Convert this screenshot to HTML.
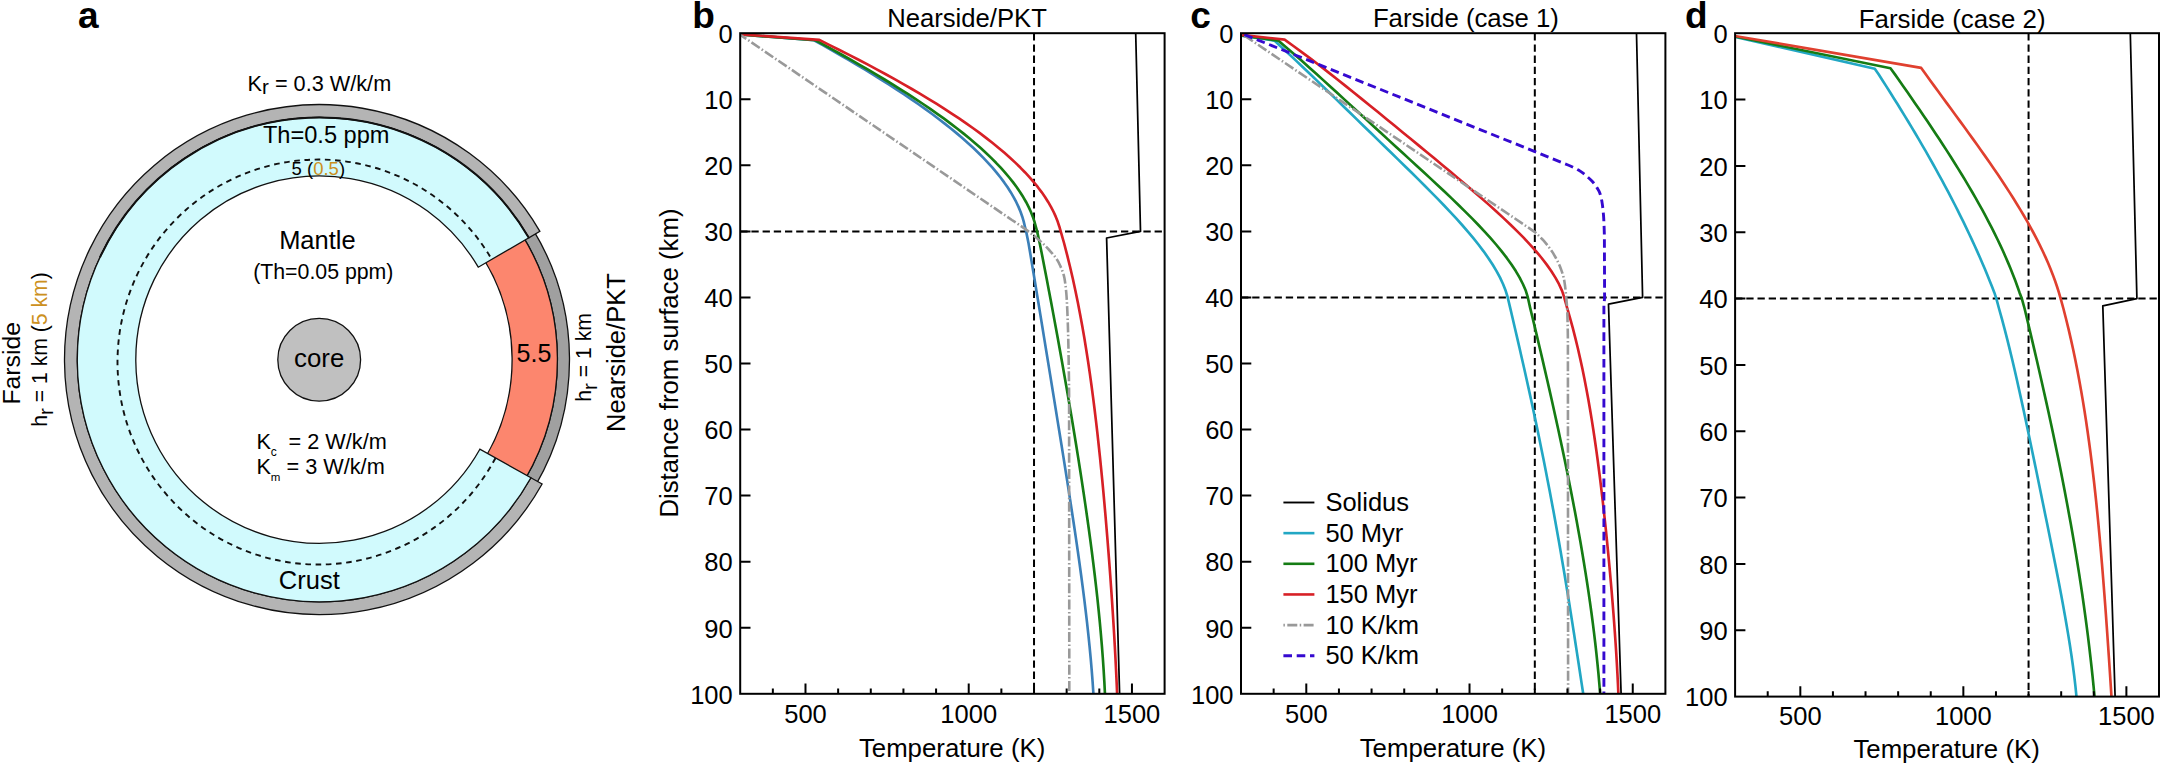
<!DOCTYPE html>
<html lang="en"><head><meta charset="utf-8"><title>Lunar crust thermal model</title>
<style>html,body{margin:0;padding:0;background:#fff;}body{width:2160px;height:763px;overflow:hidden;}svg{display:block;}text{font-family:'Liberation Sans', sans-serif;fill:#000;}.gold{fill:#cc9020;}</style>
</head><body>
<svg width="2160" height="763" viewBox="0 0 2160 763">
<rect width="2160" height="763" fill="#fff"/>
<g id="panel-a">
<path d="M533.34,230.09 A250,250 0 0 1 535.57,485.35 L525.11,479.27 A237.9,237.9 0 0 0 522.99,236.36 Z" fill="#a0a0a0" stroke="#111" stroke-width="1.3" stroke-linejoin="miter"/>
<path d="M522.99,236.36 A237.9,237.9 0 0 1 525.11,479.27 L485.96,456.48 A192.6,192.6 0 0 0 484.24,259.83 Z" fill="#fc866e" stroke="#111" stroke-width="1.3" stroke-linejoin="miter"/>
<path d="M542.1,484 A255,255 0 1 1 539.89,231.33 L528.83,237.77 A242.2,242.2 0 1 0 530.92,477.76 Z" fill="#b4b4b4" stroke="#111" stroke-width="1.3" stroke-linejoin="miter"/>
<path d="M530.92,477.76 A242.2,242.2 0 1 1 528.83,237.77 L478.27,267.2 A183.7,183.7 0 1 0 479.86,449.22 Z" fill="#d1fafd" stroke="#111" stroke-width="1.3" stroke-linejoin="miter"/>
<path d="M99.99,257.24 A242.2,242.2 0 0 1 528.83,237.77" fill="none" stroke="#111" stroke-width="2.0"/>
<path d="M495.52,457.97 A201,202.5 0 1 1 491.74,259.36" fill="none" stroke="#111" stroke-width="1.9" stroke-dasharray="5.6 4.6"/>
<circle cx="319.2" cy="359.8" r="41.4" fill="#c0c0c0" stroke="#111" stroke-width="1.3"/>
<text x="78" y="27.6" font-size="37" font-weight="bold">a</text>
<text x="247.6" y="90.6" font-size="21.7">K<tspan dy="2.9" font-size="20.5">r</tspan><tspan dy="-2.9"> = 0.3 W/k/m</tspan></text>
<text x="262.9" y="143.4" font-size="23.6">Th=0.5 ppm</text>
<text x="291.6" y="175" font-size="18.5" fill="#222">5 (<tspan class="gold">0.5</tspan>)</text>
<text x="317.4" y="249.4" font-size="25.5" text-anchor="middle">Mantle</text>
<text x="323.3" y="279" font-size="21.3" text-anchor="middle">(Th=0.05 ppm)</text>
<text x="319.2" y="367" font-size="25.8" text-anchor="middle">core</text>
<text x="256.4" y="448.5" font-size="21.7">K<tspan dy="7" font-size="12">c</tspan></text>
<text x="288.6" y="448.5" font-size="21.7">= 2 W/k/m</text>
<text x="256.4" y="473.7" font-size="21.7">K<tspan dy="7" font-size="11.5">m</tspan></text>
<text x="286.5" y="473.7" font-size="21.7">= 3 W/k/m</text>
<text x="278.8" y="588.8" font-size="25.5">Crust</text>
<text x="516.6" y="361.7" font-size="25">5.5</text>
<text transform="translate(19.5,404.6) rotate(-90)" font-size="24.8">Farside</text>
<text transform="translate(47,426.8) rotate(-90)" font-size="21.2">h<tspan dy="5.9" font-size="20.5">r</tspan><tspan dy="-5.9"> = 1 km (<tspan class="gold">5 km</tspan>)</tspan></text>
<text transform="translate(590.9,401.8) rotate(-90)" font-size="21.2">h<tspan dy="5.9" font-size="20.5">r</tspan><tspan dy="-5.9"> = 1 km</tspan></text>
<text transform="translate(624.7,432) rotate(-90)" font-size="25.5">Nearside/PKT</text>
</g>
<g id="panel-b">
<clipPath id="clipb"><rect x="740.2" y="33.2" width="424.4" height="660.6"/></clipPath>
<path d="M1034.02,33.2 L1034.02,693.8" fill="none" stroke="#000" stroke-width="2.0" stroke-linejoin="round" stroke-linecap="butt" stroke-dasharray="7.3 3.9"/>
<path d="M740.2,231.38 L1164.6,231.38" fill="none" stroke="#000" stroke-width="2.0" stroke-linejoin="round" stroke-linecap="butt" stroke-dasharray="7.3 3.9"/>
<path d="M1135.7,33.2 L1140.5,231.38 L1106.6,238 L1119.6,693.8" fill="none" stroke="#000" stroke-width="1.75" stroke-linejoin="round" stroke-linecap="butt" clip-path="url(#clipb)"/>
<path d="M723.88,33.2 L814.05,40.3 L822.81,45.2 L831.51,50.1 L840.1,55 L848.55,59.9 L856.88,64.8 L865.07,69.7 L873.12,74.6 L881.02,79.5 L888.77,84.4 L896.36,89.29 L903.8,94.19 L911.06,99.09 L918.16,103.99 L925.07,108.89 L931.81,113.79 L938.36,118.69 L944.71,123.59 L950.87,128.49 L956.83,133.39 L962.58,138.29 L968.12,143.19 L973.44,148.09 L978.54,152.99 L983.41,157.89 L988.05,162.79 L992.45,167.69 L996.61,172.59 L1000.52,177.49 L1004.18,182.39 L1007.58,187.28 L1010.71,192.18 L1013.58,197.08 L1016.18,201.98 L1018.5,206.88 L1020.53,211.78 L1022.28,216.68 L1023.73,221.58 L1024.89,226.48 L1026.13,231.38 L1028.52,243.24 L1030.52,255.09 L1032.49,266.95 L1034.46,278.81 L1036.41,290.66 L1038.36,302.52 L1040.3,314.38 L1042.24,326.24 L1044.17,338.09 L1046.1,349.95 L1048.03,361.81 L1049.96,373.66 L1051.88,385.52 L1053.81,397.38 L1055.73,409.23 L1057.64,421.09 L1059.56,432.95 L1061.46,444.8 L1063.36,456.66 L1065.24,468.52 L1067.11,480.38 L1068.96,492.23 L1070.8,504.09 L1072.6,515.95 L1074.38,527.8 L1076.13,539.66 L1077.85,551.52 L1079.52,563.37 L1081.14,575.23 L1082.71,587.09 L1084.22,598.94 L1085.67,610.8 L1087.05,622.66 L1088.35,634.52 L1089.56,646.37 L1090.68,658.23 L1091.7,670.09 L1092.61,681.94 L1093.41,693.8" fill="none" stroke="#3b7fb8" stroke-width="2.65" stroke-linejoin="round" stroke-linecap="butt" clip-path="url(#clipb)"/>
<path d="M723.88,33.2 L815.58,40.3 L824.53,45.2 L833.5,50.1 L842.34,55 L851.06,59.9 L859.66,64.8 L868.11,69.7 L876.43,74.6 L884.59,79.5 L892.61,84.4 L900.47,89.29 L908.17,94.19 L915.7,99.09 L923.06,103.99 L930.25,108.89 L937.25,113.79 L944.06,118.69 L950.68,123.59 L957.1,128.49 L963.32,133.39 L969.32,138.29 L975.12,143.19 L980.69,148.09 L986.04,152.99 L991.16,157.89 L996.05,162.79 L1000.7,167.69 L1005.1,172.59 L1009.24,177.49 L1013.14,182.39 L1016.77,187.28 L1020.14,192.18 L1023.23,197.08 L1026.05,201.98 L1028.58,206.88 L1030.83,211.78 L1032.78,216.68 L1034.44,221.58 L1035.79,226.48 L1037.1,231.38 L1039.72,243.24 L1042.07,255.09 L1044.38,266.95 L1046.67,278.81 L1048.93,290.66 L1051.17,302.52 L1053.38,314.38 L1055.57,326.24 L1057.74,338.09 L1059.88,349.95 L1062,361.81 L1064.1,373.66 L1066.17,385.52 L1068.21,397.38 L1070.23,409.23 L1072.22,421.09 L1074.19,432.95 L1076.12,444.8 L1078.02,456.66 L1079.89,468.52 L1081.72,480.38 L1083.51,492.23 L1085.26,504.09 L1086.97,515.95 L1088.63,527.8 L1090.25,539.66 L1091.81,551.52 L1093.31,563.37 L1094.76,575.23 L1096.14,587.09 L1097.45,598.94 L1098.69,610.8 L1099.85,622.66 L1100.93,634.52 L1101.93,646.37 L1102.84,658.23 L1103.64,670.09 L1104.35,681.94 L1104.95,693.8" fill="none" stroke="#157c14" stroke-width="2.65" stroke-linejoin="round" stroke-linecap="butt" clip-path="url(#clipb)"/>
<path d="M723.88,33.2 L819.39,39.9 L829.14,44.81 L838.95,49.72 L848.61,54.63 L858.13,59.54 L867.5,64.45 L876.71,69.36 L885.75,74.27 L894.63,79.18 L903.34,84.09 L911.87,89 L920.22,93.91 L928.38,98.82 L936.35,103.73 L944.12,108.64 L951.69,113.55 L959.06,118.46 L966.22,123.37 L973.16,128.28 L979.88,133.19 L986.37,138.09 L992.64,143 L998.67,147.91 L1004.46,152.82 L1010.01,157.73 L1015.3,162.64 L1020.35,167.55 L1025.13,172.46 L1029.65,177.37 L1033.91,182.28 L1037.88,187.19 L1041.59,192.1 L1045,197.01 L1048.13,201.92 L1050.97,206.83 L1053.51,211.74 L1055.75,216.65 L1057.68,221.56 L1059.3,226.47 L1060.71,231.38 L1064.1,243.24 L1067.18,255.09 L1070.09,266.95 L1072.83,278.81 L1075.41,290.66 L1077.84,302.52 L1080.13,314.38 L1082.3,326.24 L1084.35,338.09 L1086.28,349.95 L1088.12,361.81 L1089.85,373.66 L1091.5,385.52 L1093.07,397.38 L1094.57,409.23 L1096,421.09 L1097.36,432.95 L1098.66,444.8 L1099.92,456.66 L1101.12,468.52 L1102.28,480.38 L1103.39,492.23 L1104.47,504.09 L1105.51,515.95 L1106.51,527.8 L1107.48,539.66 L1108.43,551.52 L1109.34,563.37 L1110.22,575.23 L1111.06,587.09 L1111.88,598.94 L1112.67,610.8 L1113.42,622.66 L1114.14,634.52 L1114.82,646.37 L1115.46,658.23 L1116.06,670.09 L1116.61,681.94 L1117.11,693.8" fill="none" stroke="#d72026" stroke-width="2.65" stroke-linejoin="round" stroke-linecap="butt" clip-path="url(#clipb)"/>
<path d="M738,33.2 L1011.9,220 L1016.6,223.05 L1021.1,226.1 L1025.38,229.15 L1029.41,232.2 L1033.29,235.25 L1037.03,238.31 L1040.57,241.36 L1043.83,244.41 L1046.79,247.46 L1049.65,250.51 L1052.37,253.56 L1054.86,256.61 L1057.02,259.66 L1058.76,262.71 L1060.22,265.76 L1061.55,268.81 L1062.72,271.86 L1063.69,274.92 L1064.42,277.97 L1064.91,281.02 L1065.34,284.07 L1065.71,287.12 L1066.03,290.17 L1066.31,293.22 L1066.55,296.27 L1066.75,299.32 L1066.92,302.37 L1067.07,305.42 L1067.22,308.47 L1067.36,311.53 L1067.48,314.58 L1067.6,317.63 L1067.72,320.68 L1067.82,323.73 L1067.92,326.78 L1068.01,329.83 L1068.1,332.88 L1068.18,335.93 L1068.25,338.98 L1068.32,342.03 L1068.39,345.08 L1068.45,348.14 L1068.5,351.19 L1068.56,354.24 L1068.61,357.29 L1068.66,360.34 L1068.71,363.39 L1068.76,366.44 L1068.81,369.49 L1068.86,372.54 L1068.9,375.59 L1068.94,378.64 L1068.97,381.69 L1069.01,384.75 L1069.03,387.8 L1069.06,390.85 L1069.08,393.9 L1069.09,396.95 L1069.1,400 L1069.3,693.8" fill="none" stroke="#999999" stroke-width="2.6" stroke-linejoin="round" stroke-linecap="butt" stroke-dasharray="10 2.4 1.5 2.4" clip-path="url(#clipb)"/>
<rect x="740.2" y="33.2" width="424.4" height="660.6" fill="none" stroke="#000" stroke-width="2.0"/>
<path d="M740.2,99.26 h10.3 M740.2,165.32 h10.3 M740.2,231.38 h10.3 M740.2,297.44 h10.3 M740.2,363.5 h10.3 M740.2,429.56 h10.3 M740.2,495.62 h10.3 M740.2,561.68 h10.3 M740.2,627.74 h10.3 M772.85,693.8 v-5.3 M805.49,693.8 v-10.3 M838.14,693.8 v-5.3 M870.78,693.8 v-5.3 M903.43,693.8 v-5.3 M936.08,693.8 v-5.3 M968.72,693.8 v-10.3 M1001.37,693.8 v-5.3 M1034.02,693.8 v-5.3 M1066.66,693.8 v-5.3 M1099.31,693.8 v-5.3 M1131.95,693.8 v-10.3" stroke="#000" stroke-width="2.0" fill="none"/>
<text x="732.7" y="43" font-size="25.5" text-anchor="end">0</text>
<text x="732.7" y="109.06" font-size="25.5" text-anchor="end">10</text>
<text x="732.7" y="175.12" font-size="25.5" text-anchor="end">20</text>
<text x="732.7" y="241.18" font-size="25.5" text-anchor="end">30</text>
<text x="732.7" y="307.24" font-size="25.5" text-anchor="end">40</text>
<text x="732.7" y="373.3" font-size="25.5" text-anchor="end">50</text>
<text x="732.7" y="439.36" font-size="25.5" text-anchor="end">60</text>
<text x="732.7" y="505.42" font-size="25.5" text-anchor="end">70</text>
<text x="732.7" y="571.48" font-size="25.5" text-anchor="end">80</text>
<text x="732.7" y="637.54" font-size="25.5" text-anchor="end">90</text>
<text x="732.7" y="703.6" font-size="25.5" text-anchor="end">100</text>
<text x="805.49" y="722.8" font-size="25.5" text-anchor="middle">500</text>
<text x="968.72" y="722.8" font-size="25.5" text-anchor="middle">1000</text>
<text x="1131.95" y="722.8" font-size="25.5" text-anchor="middle">1500</text>
<text x="858.9" y="756.9" font-size="25.8">Temperature (K)</text>
<text x="692.3" y="28" font-size="37" font-weight="bold">b</text>
<text x="887.2" y="26.9" font-size="25.65">Nearside/PKT</text>
<text transform="translate(677.8,517.6) rotate(-90)" font-size="25.75">Distance from surface (km)</text>
</g>
<g id="panel-c">
<clipPath id="clipc"><rect x="1241" y="33.2" width="424.4" height="660.6"/></clipPath>
<path d="M1534.82,33.2 L1534.82,693.8" fill="none" stroke="#000" stroke-width="2.0" stroke-linejoin="round" stroke-linecap="butt" stroke-dasharray="7.3 3.9"/>
<path d="M1241,297.44 L1665.4,297.44" fill="none" stroke="#000" stroke-width="2.0" stroke-linejoin="round" stroke-linecap="butt" stroke-dasharray="7.3 3.9"/>
<path d="M1636.5,33.2 L1642.6,297.44 L1608.5,304.2 L1621.1,693.8" fill="none" stroke="#000" stroke-width="1.75" stroke-linejoin="round" stroke-linecap="butt" clip-path="url(#clipc)"/>
<path d="M1224.68,33.2 L1274.39,40.6 L1281.61,47.19 L1288.72,53.77 L1295.74,60.36 L1302.69,66.94 L1309.58,73.53 L1316.42,80.11 L1323.23,86.7 L1330.02,93.29 L1336.79,99.87 L1343.56,106.46 L1350.32,113.04 L1357.09,119.63 L1363.86,126.21 L1370.64,132.8 L1377.42,139.38 L1384.2,145.97 L1390.97,152.56 L1397.74,159.14 L1404.48,165.73 L1411.2,172.31 L1417.87,178.9 L1424.49,185.48 L1431.04,192.07 L1437.51,198.66 L1443.87,205.24 L1450.11,211.83 L1456.2,218.41 L1462.12,225 L1467.85,231.58 L1473.36,238.17 L1478.62,244.75 L1483.6,251.34 L1488.27,257.93 L1492.59,264.51 L1496.53,271.1 L1500.06,277.68 L1503.12,284.27 L1505.7,290.85 L1507.73,297.44 L1510.13,307.6 L1512.51,317.77 L1514.88,327.93 L1517.24,338.09 L1519.58,348.26 L1521.89,358.42 L1524.19,368.58 L1526.46,378.74 L1528.71,388.91 L1530.93,399.07 L1533.12,409.23 L1535.29,419.4 L1537.42,429.56 L1539.53,439.72 L1541.6,449.89 L1543.65,460.05 L1545.66,470.21 L1547.64,480.38 L1549.59,490.54 L1551.5,500.7 L1553.39,510.86 L1555.24,521.03 L1557.07,531.19 L1558.86,541.35 L1560.63,551.52 L1562.36,561.68 L1564.08,571.84 L1565.76,582.01 L1567.43,592.17 L1569.07,602.33 L1570.69,612.5 L1572.29,622.66 L1573.88,632.82 L1575.45,642.98 L1577.01,653.15 L1578.57,663.31 L1580.12,673.47 L1581.66,683.64 L1583.21,693.8" fill="none" stroke="#22a7c4" stroke-width="2.65" stroke-linejoin="round" stroke-linecap="butt" clip-path="url(#clipc)"/>
<path d="M1224.68,33.2 L1278.25,40.6 L1286.01,47.19 L1293.66,53.77 L1301.19,60.36 L1308.62,66.94 L1315.96,73.53 L1323.25,80.11 L1330.48,86.7 L1337.68,93.29 L1344.86,99.87 L1352.02,106.46 L1359.18,113.04 L1366.34,119.63 L1373.51,126.21 L1380.69,132.8 L1387.87,139.38 L1395.06,145.97 L1402.26,152.56 L1409.44,159.14 L1416.62,165.73 L1423.78,172.31 L1430.9,178.9 L1437.98,185.48 L1444.99,192.07 L1451.92,198.66 L1458.75,205.24 L1465.46,211.83 L1472.03,218.41 L1478.42,225 L1484.61,231.58 L1490.58,238.17 L1496.28,244.75 L1501.69,251.34 L1506.77,257.93 L1511.48,264.51 L1515.79,271.1 L1519.64,277.68 L1523.01,284.27 L1525.83,290.85 L1527.85,297.44 L1530.1,307.6 L1532.56,317.77 L1535,327.93 L1537.42,338.09 L1539.82,348.26 L1542.2,358.42 L1544.57,368.58 L1546.91,378.74 L1549.23,388.91 L1551.52,399.07 L1553.79,409.23 L1556.03,419.4 L1558.25,429.56 L1560.43,439.72 L1562.59,449.89 L1564.71,460.05 L1566.8,470.21 L1568.85,480.38 L1570.86,490.54 L1572.84,500.7 L1574.77,510.86 L1576.66,521.03 L1578.51,531.19 L1580.31,541.35 L1582.06,551.52 L1583.76,561.68 L1585.4,571.84 L1586.99,582.01 L1588.52,592.17 L1590,602.33 L1591.41,612.5 L1592.75,622.66 L1594.03,632.82 L1595.24,642.98 L1596.37,653.15 L1597.43,663.31 L1598.42,673.47 L1599.32,683.64 L1600.14,693.8" fill="none" stroke="#157c14" stroke-width="2.65" stroke-linejoin="round" stroke-linecap="butt" clip-path="url(#clipc)"/>
<path d="M1224.68,33.2 L1284.59,39.6 L1293.76,46.21 L1302.74,52.82 L1311.54,59.43 L1320.19,66.05 L1328.72,72.66 L1337.14,79.27 L1345.47,85.88 L1353.74,92.49 L1361.95,99.1 L1370.11,105.71 L1378.24,112.32 L1386.35,118.94 L1394.44,125.55 L1402.51,132.16 L1410.56,138.77 L1418.6,145.38 L1426.62,151.99 L1434.62,158.6 L1442.59,165.21 L1450.51,171.83 L1458.38,178.44 L1466.19,185.05 L1473.91,191.66 L1481.53,198.27 L1489.03,204.88 L1496.39,211.49 L1503.57,218.1 L1510.56,224.72 L1517.32,231.33 L1523.82,237.94 L1530.03,244.55 L1535.92,251.16 L1541.44,257.77 L1546.55,264.38 L1551.22,270.99 L1555.4,277.61 L1559.03,284.22 L1562.08,290.83 L1564.21,297.44 L1567.06,307.6 L1569.99,317.77 L1572.76,327.93 L1575.37,338.09 L1577.83,348.26 L1580.15,358.42 L1582.35,368.58 L1584.42,378.74 L1586.38,388.91 L1588.24,399.07 L1590.01,409.23 L1591.69,419.4 L1593.28,429.56 L1594.81,439.72 L1596.26,449.89 L1597.65,460.05 L1598.99,470.21 L1600.27,480.38 L1601.5,490.54 L1602.68,500.7 L1603.83,510.86 L1604.93,521.03 L1606,531.19 L1607.03,541.35 L1608.03,551.52 L1609,561.68 L1609.94,571.84 L1610.84,582.01 L1611.72,592.17 L1612.56,602.33 L1613.37,612.5 L1614.14,622.66 L1614.88,632.82 L1615.58,642.98 L1616.24,653.15 L1616.85,663.31 L1617.41,673.47 L1617.92,683.64 L1618.37,693.8" fill="none" stroke="#d72026" stroke-width="2.65" stroke-linejoin="round" stroke-linecap="butt" clip-path="url(#clipc)"/>
<path d="M1241,33.2 L1534.53,231.8 L1536.66,233.72 L1538.71,235.64 L1540.67,237.56 L1542.54,239.47 L1544.29,241.39 L1545.94,243.31 L1547.5,245.23 L1548.97,247.15 L1550.37,249.07 L1551.69,250.99 L1552.93,252.91 L1554.09,254.82 L1555.19,256.74 L1556.25,258.66 L1557.26,260.58 L1558.21,262.5 L1559.09,264.42 L1559.9,266.34 L1560.64,268.25 L1561.35,270.17 L1562.03,272.09 L1562.67,274.01 L1563.23,275.93 L1563.72,277.85 L1564.11,279.77 L1564.44,281.68 L1564.73,283.6 L1564.99,285.52 L1565.23,287.44 L1565.45,289.36 L1565.66,291.28 L1565.85,293.2 L1566.03,295.12 L1566.2,297.03 L1566.38,298.95 L1566.55,300.87 L1566.72,302.79 L1566.88,304.71 L1567.02,306.63 L1567.14,308.55 L1567.24,310.46 L1567.31,312.38 L1567.37,314.3 L1567.43,316.22 L1567.48,318.14 L1567.53,320.06 L1567.58,321.98 L1567.63,323.89 L1567.67,325.81 L1567.71,327.73 L1567.75,329.65 L1567.78,331.57 L1567.81,333.49 L1567.84,335.41 L1567.86,337.33 L1567.88,339.24 L1567.89,341.16 L1567.9,343.08 L1567.9,345 L1568.1,693.8" fill="none" stroke="#999999" stroke-width="2.6" stroke-linejoin="round" stroke-linecap="butt" stroke-dasharray="10 2.4 1.5 2.4" stroke-dashoffset="12" clip-path="url(#clipc)"/>
<path d="M1241,33.2 L1568,165 L1570.92,166.27 L1573.65,167.54 L1576.17,168.81 L1578.47,170.08 L1580.54,171.36 L1582.39,172.63 L1584.06,173.9 L1585.59,175.17 L1587.04,176.44 L1588.47,177.71 L1589.84,178.98 L1591.15,180.25 L1592.37,181.53 L1593.49,182.8 L1594.48,184.07 L1595.38,185.34 L1596.26,186.61 L1597.09,187.88 L1597.87,189.15 L1598.59,190.42 L1599.23,191.69 L1599.78,192.97 L1600.22,194.24 L1600.58,195.51 L1600.91,196.78 L1601.21,198.05 L1601.48,199.32 L1601.73,200.59 L1601.96,201.86 L1602.16,203.14 L1602.35,204.41 L1602.52,205.68 L1602.68,206.95 L1602.83,208.22 L1602.97,209.49 L1603.1,210.76 L1603.23,212.03 L1603.34,213.31 L1603.45,214.58 L1603.55,215.85 L1603.64,217.12 L1603.72,218.39 L1603.78,219.66 L1603.84,220.93 L1603.9,222.2 L1603.96,223.47 L1604.01,224.75 L1604.07,226.02 L1604.12,227.29 L1604.16,228.56 L1604.21,229.83 L1604.25,231.1 L1604.29,232.37 L1604.32,233.64 L1604.35,234.92 L1604.37,236.19 L1604.39,237.46 L1604.4,238.73 L1604.4,240 L1604.6,297.44 L1603.9,305.44 L1603.9,693.8" fill="none" stroke="#3509d0" stroke-width="2.9" stroke-linejoin="round" stroke-linecap="butt" stroke-dasharray="8.6 4.7" stroke-dashoffset="9.6" clip-path="url(#clipc)"/>
<rect x="1241" y="33.2" width="424.4" height="660.6" fill="none" stroke="#000" stroke-width="2.0"/>
<path d="M1241,99.26 h10.3 M1241,165.32 h10.3 M1241,231.38 h10.3 M1241,297.44 h10.3 M1241,363.5 h10.3 M1241,429.56 h10.3 M1241,495.62 h10.3 M1241,561.68 h10.3 M1241,627.74 h10.3 M1273.65,693.8 v-5.3 M1306.29,693.8 v-10.3 M1338.94,693.8 v-5.3 M1371.58,693.8 v-5.3 M1404.23,693.8 v-5.3 M1436.88,693.8 v-5.3 M1469.52,693.8 v-10.3 M1502.17,693.8 v-5.3 M1534.82,693.8 v-5.3 M1567.46,693.8 v-5.3 M1600.11,693.8 v-5.3 M1632.75,693.8 v-10.3" stroke="#000" stroke-width="2.0" fill="none"/>
<text x="1233.5" y="43" font-size="25.5" text-anchor="end">0</text>
<text x="1233.5" y="109.06" font-size="25.5" text-anchor="end">10</text>
<text x="1233.5" y="175.12" font-size="25.5" text-anchor="end">20</text>
<text x="1233.5" y="241.18" font-size="25.5" text-anchor="end">30</text>
<text x="1233.5" y="307.24" font-size="25.5" text-anchor="end">40</text>
<text x="1233.5" y="373.3" font-size="25.5" text-anchor="end">50</text>
<text x="1233.5" y="439.36" font-size="25.5" text-anchor="end">60</text>
<text x="1233.5" y="505.42" font-size="25.5" text-anchor="end">70</text>
<text x="1233.5" y="571.48" font-size="25.5" text-anchor="end">80</text>
<text x="1233.5" y="637.54" font-size="25.5" text-anchor="end">90</text>
<text x="1233.5" y="703.6" font-size="25.5" text-anchor="end">100</text>
<text x="1306.29" y="722.8" font-size="25.5" text-anchor="middle">500</text>
<text x="1469.52" y="722.8" font-size="25.5" text-anchor="middle">1000</text>
<text x="1632.75" y="722.8" font-size="25.5" text-anchor="middle">1500</text>
<text x="1359.7" y="756.9" font-size="25.8">Temperature (K)</text>
<text x="1190.3" y="28" font-size="37" font-weight="bold">c</text>
<text x="1372.9" y="26.8" font-size="25.75">Farside (case 1)</text>
<path d="M1283.4,502.5 L1314.4,502.5" fill="none" stroke="#000" stroke-width="1.9" stroke-linejoin="round" stroke-linecap="butt"/>
<text x="1325.4" y="510.9" font-size="25.5">Solidus</text>
<path d="M1283.4,533.15 L1314.4,533.15" fill="none" stroke="#22a7c4" stroke-width="2.6" stroke-linejoin="round" stroke-linecap="butt"/>
<text x="1325.4" y="541.55" font-size="25.5">50 Myr</text>
<path d="M1283.4,563.8 L1314.4,563.8" fill="none" stroke="#157c14" stroke-width="2.6" stroke-linejoin="round" stroke-linecap="butt"/>
<text x="1325.4" y="572.2" font-size="25.5">100 Myr</text>
<path d="M1283.4,594.45 L1314.4,594.45" fill="none" stroke="#d72026" stroke-width="2.6" stroke-linejoin="round" stroke-linecap="butt"/>
<text x="1325.4" y="602.85" font-size="25.5">150 Myr</text>
<path d="M1283.4,625.1 L1314.4,625.1" fill="none" stroke="#999999" stroke-width="2.7" stroke-linejoin="round" stroke-linecap="butt" stroke-dasharray="1.5 2.4 10 2.4"/>
<text x="1325.4" y="633.5" font-size="25.5">10 K/km</text>
<path d="M1283.4,655.75 L1314.4,655.75" fill="none" stroke="#3509d0" stroke-width="2.9" stroke-linejoin="round" stroke-linecap="butt" stroke-dasharray="8.6 4.7"/>
<text x="1325.4" y="664.15" font-size="25.5">50 K/km</text>
</g>
<g id="panel-d">
<clipPath id="clipd"><rect x="1735.1" y="33.2" width="423.9" height="663.4"/></clipPath>
<path d="M2028.57,33.2 L2028.57,696.6" fill="none" stroke="#000" stroke-width="2.0" stroke-linejoin="round" stroke-linecap="butt" stroke-dasharray="7.3 3.9"/>
<path d="M1735.1,298.56 L2159,298.56" fill="none" stroke="#000" stroke-width="2.0" stroke-linejoin="round" stroke-linecap="butt" stroke-dasharray="7.3 3.9"/>
<path d="M2130.3,33.2 L2136.9,298.56 L2102.8,305.8 L2115.1,696.6" fill="none" stroke="#000" stroke-width="1.75" stroke-linejoin="round" stroke-linecap="butt" clip-path="url(#clipd)"/>
<path d="M1718.8,33.2 L1874.77,68.7 L1878.77,74.59 L1882.57,80.49 L1886.34,86.38 L1890.07,92.28 L1893.78,98.17 L1897.46,104.06 L1901.11,109.96 L1904.72,115.85 L1908.31,121.74 L1911.86,127.64 L1915.37,133.53 L1918.85,139.43 L1922.29,145.32 L1925.7,151.21 L1929.07,157.11 L1932.4,163 L1935.69,168.9 L1938.94,174.79 L1942.15,180.68 L1945.32,186.58 L1948.44,192.47 L1951.53,198.36 L1954.57,204.26 L1957.56,210.15 L1960.51,216.05 L1963.42,221.94 L1966.27,227.83 L1969.08,233.73 L1971.84,239.62 L1974.55,245.52 L1977.21,251.41 L1979.82,257.3 L1982.38,263.2 L1984.89,269.09 L1987.34,274.98 L1989.74,280.88 L1992.08,286.77 L1994.37,292.67 L1996.34,298.56 L1999.06,308.77 L2001.9,318.97 L2004.63,329.18 L2007.26,339.38 L2009.79,349.59 L2012.25,359.8 L2014.65,370 L2016.98,380.21 L2019.26,390.42 L2021.5,400.62 L2023.71,410.83 L2025.89,421.03 L2028.05,431.24 L2030.18,441.45 L2032.31,451.65 L2034.42,461.86 L2036.53,472.06 L2038.63,482.27 L2040.73,492.48 L2042.82,502.68 L2044.9,512.89 L2046.99,523.1 L2049.06,533.3 L2051.12,543.51 L2053.16,553.71 L2055.19,563.92 L2057.2,574.13 L2059.17,584.33 L2061.11,594.54 L2063,604.74 L2064.84,614.95 L2066.62,625.16 L2068.33,635.36 L2069.96,645.57 L2071.5,655.78 L2072.94,665.98 L2074.25,676.19 L2075.44,686.39 L2076.48,696.6" fill="none" stroke="#22a7c4" stroke-width="2.65" stroke-linejoin="round" stroke-linecap="butt" clip-path="url(#clipd)"/>
<path d="M1718.8,33.2 L1890.46,68.2 L1894.77,74.11 L1898.91,80.01 L1903.05,85.92 L1907.16,91.83 L1911.26,97.73 L1915.34,103.64 L1919.4,109.55 L1923.43,115.45 L1927.43,121.36 L1931.4,127.27 L1935.34,133.17 L1939.24,139.08 L1943.1,144.99 L1946.93,150.89 L1950.7,156.8 L1954.44,162.71 L1958.12,168.61 L1961.75,174.52 L1965.33,180.43 L1968.85,186.33 L1972.31,192.24 L1975.71,198.15 L1979.04,204.05 L1982.31,209.96 L1985.51,215.87 L1988.63,221.77 L1991.68,227.68 L1994.66,233.59 L1997.55,239.49 L2000.36,245.4 L2003.09,251.31 L2005.72,257.21 L2008.27,263.12 L2010.72,269.03 L2013.08,274.93 L2015.34,280.84 L2017.5,286.75 L2019.56,292.65 L2021.83,298.56 L2024.63,308.77 L2027.07,318.97 L2029.51,329.18 L2031.92,339.38 L2034.32,349.59 L2036.69,359.8 L2039.04,370 L2041.37,380.21 L2043.67,390.42 L2045.95,400.62 L2048.2,410.83 L2050.41,421.03 L2052.6,431.24 L2054.75,441.45 L2056.87,451.65 L2058.95,461.86 L2061,472.06 L2063.01,482.27 L2064.98,492.48 L2066.91,502.68 L2068.79,512.89 L2070.64,523.1 L2072.44,533.3 L2074.2,543.51 L2075.91,553.71 L2077.57,563.92 L2079.19,574.13 L2080.76,584.33 L2082.28,594.54 L2083.74,604.74 L2085.16,614.95 L2086.52,625.16 L2087.84,635.36 L2089.09,645.57 L2090.29,655.78 L2091.44,665.98 L2092.53,676.19 L2093.57,686.39 L2094.54,696.6" fill="none" stroke="#157c14" stroke-width="2.65" stroke-linejoin="round" stroke-linecap="butt" clip-path="url(#clipd)"/>
<path d="M1718.8,33.2 L1921.22,67.9 L1925.4,73.81 L1929.68,79.73 L1933.98,85.64 L1938.3,91.56 L1942.63,97.47 L1946.97,103.39 L1951.31,109.3 L1955.64,115.21 L1959.97,121.13 L1964.29,127.04 L1968.58,132.96 L1972.85,138.87 L1977.1,144.79 L1981.31,150.7 L1985.48,156.62 L1989.61,162.53 L1993.69,168.44 L1997.71,174.36 L2001.67,180.27 L2005.58,186.19 L2009.41,192.1 L2013.16,198.02 L2016.84,203.93 L2020.43,209.84 L2023.93,215.76 L2027.34,221.67 L2030.64,227.59 L2033.84,233.5 L2036.93,239.42 L2039.91,245.33 L2042.76,251.25 L2045.49,257.16 L2048.09,263.07 L2050.55,268.99 L2052.87,274.9 L2055.04,280.82 L2057.07,286.73 L2058.93,292.65 L2060.67,298.56 L2063.45,308.77 L2066.07,318.97 L2068.55,329.18 L2070.92,339.38 L2073.16,349.59 L2075.3,359.8 L2077.33,370 L2079.25,380.21 L2081.09,390.42 L2082.83,400.62 L2084.48,410.83 L2086.06,421.03 L2087.56,431.24 L2088.99,441.45 L2090.35,451.65 L2091.65,461.86 L2092.88,472.06 L2094.07,482.27 L2095.2,492.48 L2096.28,502.68 L2097.32,512.89 L2098.32,523.1 L2099.28,533.3 L2100.21,543.51 L2101.1,553.71 L2101.97,563.92 L2102.8,574.13 L2103.62,584.33 L2104.41,594.54 L2105.18,604.74 L2105.93,614.95 L2106.66,625.16 L2107.38,635.36 L2108.09,645.57 L2108.78,655.78 L2109.47,665.98 L2110.14,676.19 L2110.8,686.39 L2111.46,696.6" fill="none" stroke="#e0402f" stroke-width="2.65" stroke-linejoin="round" stroke-linecap="butt" clip-path="url(#clipd)"/>
<rect x="1735.1" y="33.2" width="423.9" height="663.4" fill="none" stroke="#000" stroke-width="2.0"/>
<path d="M1735.1,99.54 h10.3 M1735.1,165.88 h10.3 M1735.1,232.22 h10.3 M1735.1,298.56 h10.3 M1735.1,364.9 h10.3 M1735.1,431.24 h10.3 M1735.1,497.58 h10.3 M1735.1,563.92 h10.3 M1735.1,630.26 h10.3 M1767.71,696.6 v-5.3 M1800.32,696.6 v-10.3 M1832.92,696.6 v-5.3 M1865.53,696.6 v-5.3 M1898.14,696.6 v-5.3 M1930.75,696.6 v-5.3 M1963.35,696.6 v-10.3 M1995.96,696.6 v-5.3 M2028.57,696.6 v-5.3 M2061.18,696.6 v-5.3 M2093.78,696.6 v-5.3 M2126.39,696.6 v-10.3" stroke="#000" stroke-width="2.0" fill="none"/>
<text x="1727.6" y="43" font-size="25.5" text-anchor="end">0</text>
<text x="1727.6" y="109.34" font-size="25.5" text-anchor="end">10</text>
<text x="1727.6" y="175.68" font-size="25.5" text-anchor="end">20</text>
<text x="1727.6" y="242.02" font-size="25.5" text-anchor="end">30</text>
<text x="1727.6" y="308.36" font-size="25.5" text-anchor="end">40</text>
<text x="1727.6" y="374.7" font-size="25.5" text-anchor="end">50</text>
<text x="1727.6" y="441.04" font-size="25.5" text-anchor="end">60</text>
<text x="1727.6" y="507.38" font-size="25.5" text-anchor="end">70</text>
<text x="1727.6" y="573.72" font-size="25.5" text-anchor="end">80</text>
<text x="1727.6" y="640.06" font-size="25.5" text-anchor="end">90</text>
<text x="1727.6" y="706.4" font-size="25.5" text-anchor="end">100</text>
<text x="1800.32" y="725.2" font-size="25.5" text-anchor="middle">500</text>
<text x="1963.35" y="725.2" font-size="25.5" text-anchor="middle">1000</text>
<text x="2126.39" y="725.2" font-size="25.5" text-anchor="middle">1500</text>
<text x="1853.4" y="757.7" font-size="25.8">Temperature (K)</text>
<text x="1685" y="28.2" font-size="37" font-weight="bold">d</text>
<text x="1858.8" y="27.6" font-size="25.85">Farside (case 2)</text>
</g>
</svg></body></html>
